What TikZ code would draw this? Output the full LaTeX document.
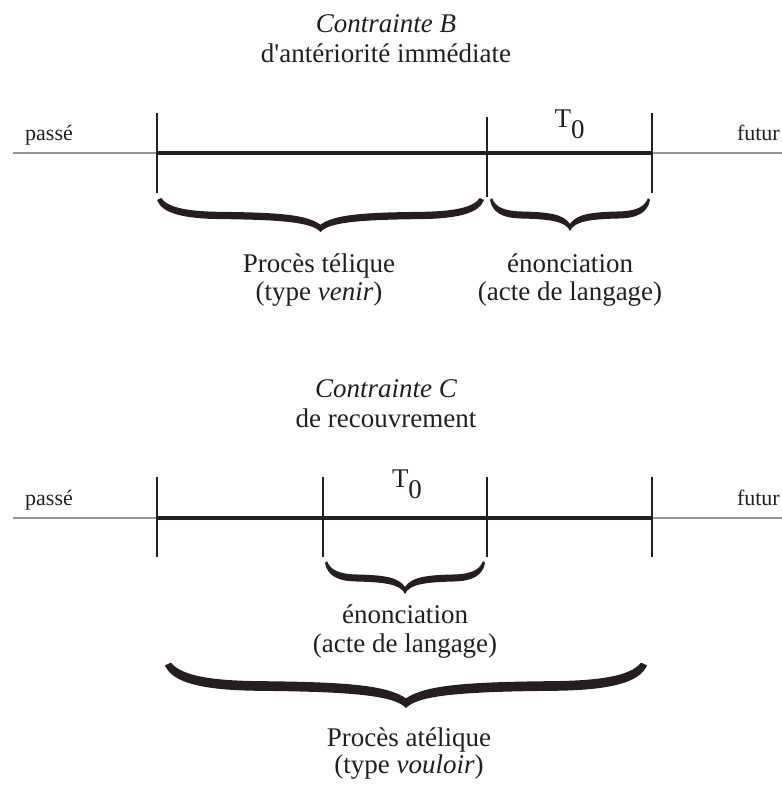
\documentclass[tikz,border=0pt]{standalone}
\usepackage{fontspec}
\setmainfont{Liberation Serif}[Ligatures=TeXOff]
\definecolor{ink}{HTML}{231F20}
\definecolor{axisgray}{HTML}{939598}
\tikzset{
  txt/.style={anchor=base, inner sep=0pt, text=ink, font=\fontsize{27}{29}\selectfont},
  side/.style={anchor=base, inner sep=0pt, text=ink, font=\fontsize{22}{24}\selectfont},
  axisline/.style={draw=axisgray, line width=2pt},
  spanline/.style={draw=ink, line width=4.5pt},
  tickline/.style={draw=ink, line width=2pt},
  bracefill/.style={fill=ink, draw=none},
}
\newcommand{\calbrace}[4]{%
  \begin{scope}[shift={(#1,#2)}, xscale=#3, yscale=#4]
    \path[bracefill] (-1,0.03)
      .. controls (-0.97,0.42) and (-0.85,0.6) .. (-0.6,0.61)
      .. controls (-0.25,0.63) and (-0.05,0.7) .. (0,1)
      .. controls (0.05,0.7) and (0.25,0.63) .. (0.6,0.61)
      .. controls (0.85,0.6) and (0.97,0.42) .. (1,0.03)
      -- (0.975,-0.03)
      .. controls (0.93,0.28) and (0.8,0.38) .. (0.6,0.39)
      .. controls (0.25,0.41) and (0.08,0.48) .. (0,0.78)
      .. controls (-0.08,0.48) and (-0.25,0.41) .. (-0.6,0.39)
      .. controls (-0.8,0.38) and (-0.93,0.28) .. (-0.975,-0.03)
      -- cycle;
  \end{scope}}
\begin{document}
\begin{tikzpicture}[x=1pt,y=-1pt]
\useasboundingbox (0,0) rectangle (782,785);

% ---------- Contrainte B ----------
\node[txt] (titleB) at (386,32) {\itshape Contrainte B};
\node[txt] (subB) at (386,62) {d'antériorité immédiate};

\coordinate (bL) at (13,153);
\coordinate (bR) at (782,153);
\coordinate (b1) at (157,153);
\coordinate (b2) at (487,153);
\coordinate (b3) at (652,153);
\draw[axisline] (bL) -- (b1);
\draw[axisline] (b3) -- (bR);
\draw[spanline] (b1) -- (b3);
\draw[tickline] (157,113) -- (157,193);
\draw[tickline] (487,117) -- (487,197);
\draw[tickline] (652,113) -- (652,193);

\node[side, anchor=base west] (passeB) at (25,140) {passé};
\node[side, anchor=base east] (futurB) at (780,140) {futur};
\node[txt] (T0B) at (569.5,127) {T\raisebox{-11pt}{0}};

\calbrace{320.5}{199}{163.5}{33}
\calbrace{570}{199}{80}{32}

\node[txt] (telique1) at (319,272) {Procès télique};
\node[txt] (telique2) at (319,300) {(type \textit{venir})};
\node[txt] (enonB1) at (570,272) {énonciation};
\node[txt] (enonB2) at (570,300) {(acte de langage)};

% ---------- Contrainte C ----------
\node[txt] (titleC) at (386,397) {\itshape Contrainte C};
\node[txt] (subC) at (386,427) {de recouvrement};

\coordinate (cL) at (13,518);
\coordinate (cR) at (782,518);
\coordinate (c1) at (157,518);
\coordinate (c4) at (652,518);
\draw[axisline] (cL) -- (c1);
\draw[axisline] (c4) -- (cR);
\draw[spanline] (c1) -- (c4);
\draw[tickline] (157,477) -- (157,557);
\draw[tickline] (323,477) -- (323,557);
\draw[tickline] (487,477) -- (487,557);
\draw[tickline] (652,477) -- (652,557);

\node[side, anchor=base west] (passeC) at (25,505) {passé};
\node[side, anchor=base east] (futurC) at (780,505) {futur};
\node[txt] (T0C) at (407,487) {T\raisebox{-11pt}{0}};

\calbrace{405}{562}{80}{32}
\node[txt] (enonC1) at (405,623) {énonciation};
\node[txt] (enonC2) at (405,652) {(acte de langage)};

\calbrace{406}{664}{241}{44}
\node[txt] (atelique1) at (409,746) {Procès atélique};
\node[txt] (atelique2) at (409,773) {(type \textit{vouloir})};
\end{tikzpicture}
\end{document}
